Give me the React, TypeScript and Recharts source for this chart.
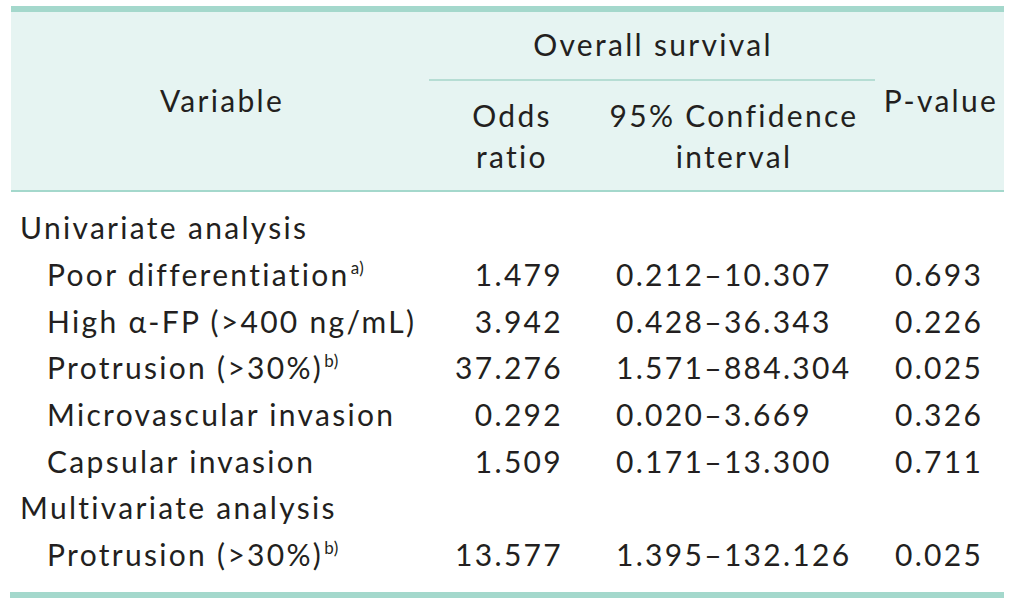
import React from 'react';
import { ComposedChart, XAxis, YAxis, Bar, Customized } from 'recharts';

// ---- table content ----
const rowLabels = [
  'Univariate analysis',
  'Poor differentiation',
  'High α-FP (>400 ng/mL)',
  'Protrusion (>30%)',
  'Microvascular invasion',
  'Capsular invasion',
  'Multivariate analysis',
  'Protrusion (>30%)',
];
const rowNotes = ['', 'a)', '', 'b)', '', '', '', 'b)'];
const rowIsSection = [true, false, false, false, false, false, true, false];
const oddsRatios = ['', '1.479', '3.942', '37.276', '0.292', '1.509', '', '13.577'];
const ciLower = ['', '0.212', '0.428', '1.571', '0.020', '0.171', '', '1.395'];
const ciUpper = ['', '10.307', '36.343', '884.304', '3.669', '13.300', '', '132.126'];
const pValues = ['', '0.693', '0.226', '0.025', '0.326', '0.711', '', '0.025'];

const headerGroup = 'Overall survival';
const headerVariable = 'Variable';
const headerOdds = ['Odds', 'ratio'];
const headerCI = ['95% Confidence', 'interval'];
const headerP = 'P-value';

const data = rowLabels.map((label, i) => ({ row: `r${i}`, label }));

// ---- style ----
const FONT = 'Lato, "Open Sans", sans-serif';
const FS = 30;
const LS = 2.3;
const INK = '#231f20';
const RULE = '#a4d8cc';
const RULE_LIGHT = '#b6ddd4';
const HEAD_BG = '#e6f4f2';

const textProps = {
  fontFamily: FONT,
  fontSize: FS,
  fill: INK,
  letterSpacing: LS,
};

const RowTick = (props: any) => {
  const { y, payload } = props;
  const i = data.findIndex((d) => d.row === payload?.value);
  if (i < 0) return null;
  const by = y + 10.5;
  return (
    <g>
      <text {...textProps} x={rowIsSection[i] ? 20 : 47} y={by} textAnchor="start">
        {rowLabels[i]}
        {rowNotes[i] ? (
          <tspan dy={-12} dx={1} fontSize={17} letterSpacing={0.5}>
            {rowNotes[i]}
          </tspan>
        ) : null}
      </text>
      {oddsRatios[i] ? (
        <text {...textProps} x={563} y={by} textAnchor="end">
          {oddsRatios[i]}
        </text>
      ) : null}
      {ciLower[i] ? (
        <text {...textProps} x={616} y={by} textAnchor="start">
          {`${ciLower[i]}–${ciUpper[i]}`}
        </text>
      ) : null}
      {pValues[i] ? (
        <text {...textProps} x={895} y={by} textAnchor="start">
          {pValues[i]}
        </text>
      ) : null}
    </g>
  );
};

const Frame = () => (
  <g>
    <rect x={11} y={12} width={993} height={179} fill={HEAD_BG} />
    <rect x={11} y={6} width={993} height={6} fill={RULE} />
    <rect x={11} y={190} width={993} height={2} fill={RULE} />
    <rect x={429} y={79} width={446} height={2} fill={RULE_LIGHT} />
    <rect x={10} y={592} width={994} height={6} fill={RULE} />
    <text {...textProps} x={222} y={112} textAnchor="middle">{headerVariable}</text>
    <text {...textProps} x={653} y={56} textAnchor="middle">{headerGroup}</text>
    <text {...textProps} x={512} y={127} textAnchor="middle">{headerOdds[0]}</text>
    <text {...textProps} x={512} y={168} textAnchor="middle">{headerOdds[1]}</text>
    <text {...textProps} x={734} y={127} textAnchor="middle">{headerCI[0]}</text>
    <text {...textProps} x={734} y={168} textAnchor="middle">{headerCI[1]}</text>
    <text {...textProps} x={941} y={112} textAnchor="middle">{headerP}</text>
  </g>
);

export default function App() {
  return (
    <div style={{ position: 'absolute', left: 0, top: 0, background: '#fff' }}>
      <ComposedChart
        width={1012}
        height={605}
        data={data}
        layout="vertical"
        margin={{ top: 205.5, bottom: 26, left: 0, right: 0 }}
      >
        <Customized component={Frame} />
        <XAxis type="number" hide domain={[0, 1]} />
        <YAxis
          type="category"
          dataKey="row"
          width={1}
          axisLine={false}
          tickLine={false}
          interval={0}
          tick={(p: any) => <RowTick {...p} />}
        />
        <Bar dataKey="label" fill="none" isAnimationActive={false} />
      </ComposedChart>
    </div>
  );
}
